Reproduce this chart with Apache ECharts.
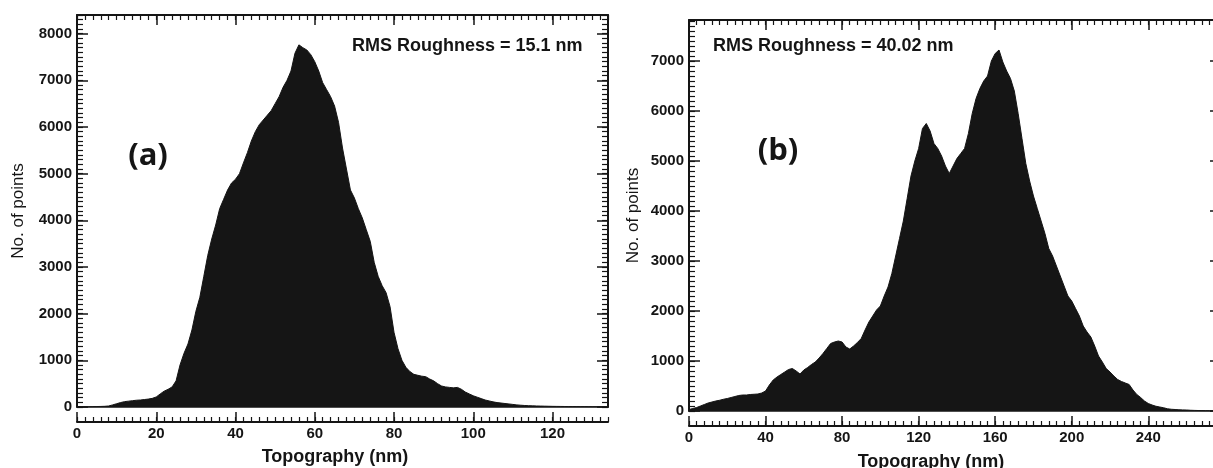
<!DOCTYPE html>
<html>
<head>
<meta charset="utf-8">
<script src="https://cdn.jsdelivr.net/npm/echarts@6/dist/echarts.min.js"></script>
<style>html,body{margin:0;padding:0;background:#fff;}#c{width:1213px;height:468px;}</style>
</head>
<body>
<div id="c"></div>
<script>
// Panel (a): histogram, bin width 1 nm starting at 0 nm
const leftBinStart = 0;
const leftBinWidth = 1;
const leftCounts = [
  5,5,5,6,8,10,12,15,22,45,
  70,95,115,125,135,145,150,160,170,185,
  215,280,340,380,430,560,900,1150,1350,1650,
  2050,2350,2800,3250,3600,3900,4250,4450,4650,4800,
  4880,5000,5230,5450,5700,5900,6050,6150,6250,6350,
  6500,6650,6850,7000,7200,7580,7760,7700,7650,7550,
  7400,7200,6950,6800,6650,6450,6100,5550,5100,4650,
  4480,4250,4050,3800,3550,3100,2800,2600,2450,2150,
  1600,1250,1000,850,760,700,680,660,650,600,
  560,500,450,430,420,410,420,380,320,280,
  240,210,180,150,130,110,95,85,75,65,
  55,45,38,32,28,25,22,20,18,16,
  14,13,12,11,10,10,9,8,8,7,
  6,6,5,5,5
];
// Panel (b): histogram, bin width 2 nm starting at 0 nm
const rightBinStart = 0;
const rightBinWidth = 2;
const rightCounts = [
  30,50,70,100,130,160,180,200,215,235,
  250,270,290,310,320,320,330,335,340,360,
  400,520,620,680,730,780,830,850,800,740,
  820,870,930,980,1060,1150,1250,1350,1380,1400,
  1380,1280,1240,1300,1370,1450,1620,1780,1900,2020,
  2100,2300,2480,2750,3100,3450,3800,4250,4700,5000,
  5250,5650,5750,5600,5350,5250,5100,4900,4750,4900,
  5050,5150,5250,5550,5950,6250,6450,6600,6700,7000,
  7150,7220,6980,6800,6650,6400,5950,5450,4950,4600,
  4300,4050,3800,3550,3250,3100,2900,2700,2500,2300,
  2200,2050,1900,1700,1580,1480,1300,1100,980,850,
  780,700,630,590,560,530,420,330,270,200,
  150,120,95,80,65,45,35,30,25,22,
  20,15,12,10,8,6,5,4,3,3
];
const leftXTicks = {min: 0, max: 134, major: 20, minor: 2};
const leftYTicks = {min: 0, max: 8400, major: 1000, minor: 100};
const rightXTicks = {min: 0, max: 278, major: 40, minor: 4};
const rightYTicks = {min: 0, max: 7820, major: 1000, minor: 100};
const xTitle = 'Topography (nm)';
const yTitle = 'No. of points';
const annotA = 'RMS Roughness = 15.1 nm';
const annotB = 'RMS Roughness = 40.02 nm';

const INK = '#151515';
const FONT = '"Liberation Sans", Arial, sans-serif';
const plain = v => String(v);

function pairs(start, width, counts) {
  return counts.map((v, i) => [start + i * width, v]);
}

const xAxes = [], yAxes = [];
function addAxes(gridIndex, xt, yt, yNameGap) {
  const base = xAxes.length, ybase = yAxes.length;
  const lbl = {show: false};
  xAxes.push({gridIndex, type: 'value', position: 'bottom', offset: 15, min: xt.min, max: xt.max, interval: xt.major,
    axisLine: {show: true, onZero: false, lineStyle: {color: INK, width: 2}},
    axisTick: {show: true, inside: true, length: 10, lineStyle: {color: INK, width: 1.5}},
    axisLabel: {show: true, margin: 4, showMaxLabel: false, formatter: plain, color: INK, fontFamily: FONT, fontWeight: 'bold', fontSize: 15},
    splitLine: {show: false}});
  xAxes.push({gridIndex, type: 'value', position: 'bottom', offset: 15, min: xt.min, max: xt.max, interval: xt.minor,
    axisLine: {show: false, onZero: false}, axisTick: {show: true, inside: true, length: 5, lineStyle: {color: INK, width: 1.2}},
    axisLabel: lbl, splitLine: {show: false}});
  xAxes.push({gridIndex, type: 'value', position: 'top', min: xt.min, max: xt.max, interval: xt.major,
    axisLine: {show: true, onZero: false, lineStyle: {color: INK, width: 2}},
    axisTick: {show: true, inside: true, length: 10, lineStyle: {color: INK, width: 1.5}},
    axisLabel: lbl, splitLine: {show: false}});
  xAxes.push({gridIndex, type: 'value', position: 'top', min: xt.min, max: xt.max, interval: xt.minor,
    axisLine: {show: false, onZero: false}, axisTick: {show: true, inside: true, length: 5, lineStyle: {color: INK, width: 1.2}},
    axisLabel: lbl, splitLine: {show: false}});
  xAxes.push({gridIndex, type: 'value', position: 'bottom', offset: 0, min: xt.min, max: xt.max,
    axisLine: {show: true, onZero: false, lineStyle: {color: INK, width: 1.5}}, axisTick: {show: false},
    axisLabel: lbl, splitLine: {show: false}});
  yAxes.push({gridIndex, type: 'value', position: 'left', min: yt.min, max: yt.max, interval: yt.major,
    name: yTitle, nameLocation: 'middle', nameGap: yNameGap,
    nameTextStyle: {color: INK, fontFamily: FONT, fontSize: 17, fontWeight: 'normal'},
    axisLine: {show: true, onZero: false, lineStyle: {color: INK, width: 2}},
    axisTick: {show: true, inside: true, length: 11, lineStyle: {color: INK, width: 1.5}},
    axisLabel: {show: true, margin: 5, showMaxLabel: false, formatter: plain, color: INK, fontFamily: FONT, fontWeight: 'bold', fontSize: 15},
    splitLine: {show: false}});
  yAxes.push({gridIndex, type: 'value', position: 'left', min: yt.min, max: yt.max, interval: yt.minor,
    axisLine: {show: false, onZero: false}, axisTick: {show: true, inside: true, length: 6, lineStyle: {color: INK, width: 1.2}},
    axisLabel: lbl, splitLine: {show: false}});
  yAxes.push({gridIndex, type: 'value', position: 'right', min: yt.min, max: yt.max, interval: yt.major,
    axisLine: {show: true, onZero: false, lineStyle: {color: INK, width: 2}},
    axisTick: {show: true, inside: true, length: 11, lineStyle: {color: INK, width: 1.5}},
    axisLabel: lbl, splitLine: {show: false}});
  yAxes.push({gridIndex, type: 'value', position: 'right', min: yt.min, max: yt.max, interval: yt.minor,
    axisLine: {show: false, onZero: false}, axisTick: {show: true, inside: true, length: 6, lineStyle: {color: INK, width: 1.2}},
    axisLabel: lbl, splitLine: {show: false}});
  return {x: base, y: ybase};
}

const a = addAxes(0, leftXTicks, leftYTicks, 50);
const b = addAxes(1, rightXTicks, rightYTicks, 47);

function histSeries(idx, data) {
  return {type: 'line', xAxisIndex: idx.x, yAxisIndex: idx.y, data, symbol: 'none', silent: true,
    lineStyle: {color: INK, width: 1}, areaStyle: {color: INK, opacity: 1}, z: 1};
}

const chart = echarts.init(document.getElementById('c'), null, {renderer: 'canvas'});
chart.setOption({
  animation: false,
  backgroundColor: '#ffffff',
  grid: [
    {left: 77, top: 15, width: 531, height: 392, containLabel: false, outerBoundsMode: 'none'},
    {left: 689, top: 20, width: 532, height: 391, containLabel: false, outerBoundsMode: 'none'}
  ],
  xAxis: xAxes,
  yAxis: yAxes,
  series: [
    histSeries(a, pairs(leftBinStart, leftBinWidth, leftCounts)),
    histSeries(b, pairs(rightBinStart, rightBinWidth, rightCounts))
  ],
  graphic: [
    {type: 'text', x: 352, y: 46, style: {text: annotA, fill: INK, font: 'bold 18px ' + FONT, align: 'left', verticalAlign: 'middle'}},
    {type: 'text', x: 713, y: 46, style: {text: annotB, fill: INK, font: 'bold 18px ' + FONT, align: 'left', verticalAlign: 'middle'}},
    {type: 'text', x: 148, y: 156, style: {text: '(a)', fill: INK, font: 'bold 31px "Open Sans", sans-serif', align: 'center', verticalAlign: 'middle'}},
    {type: 'text', x: 778, y: 151, style: {text: '(b)', fill: INK, font: 'bold 31px "Open Sans", sans-serif', align: 'center', verticalAlign: 'middle'}},
    {type: 'text', x: 335, y: 457, style: {text: xTitle, fill: INK, font: 'bold 18px ' + FONT, align: 'center', verticalAlign: 'middle'}},
    {type: 'text', x: 931, y: 462, style: {text: xTitle, fill: INK, font: 'bold 18px ' + FONT, align: 'center', verticalAlign: 'middle'}}
  ]
});
</script>
</body>
</html>
